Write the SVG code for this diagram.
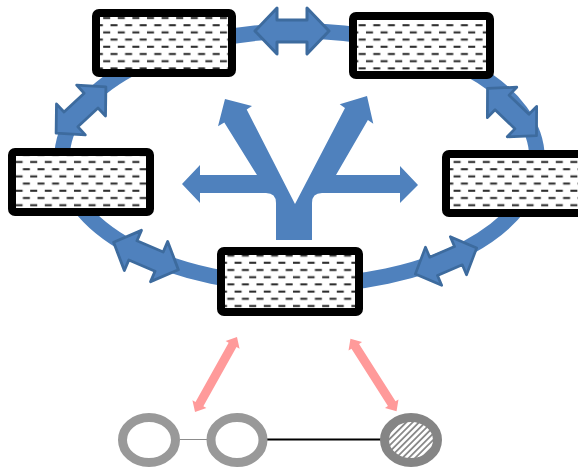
<svg xmlns="http://www.w3.org/2000/svg" width="578" height="467" viewBox="0 0 578 467">
  <style>
    .box { fill: url(#dashes); stroke: #000; stroke-width: 8; }
    .ring { fill: none; stroke: #4f81bd; stroke-width: 15.5; }
    .dbl { fill: #4f81bd; stroke: #3d6b9e; stroke-width: 3; stroke-linejoin: round; }
    .fork { fill: #4f81bd; }
    .pink { fill: #ff9a9a; }
    .hollow { fill: #fff; stroke: #999; stroke-width: 9; }
    .hatched { fill: url(#hatch); stroke: #858585; stroke-width: 9; }
  </style>
  <defs>
    <!-- staggered dash rows used inside the boxes -->
    <pattern id="dashes" patternUnits="userSpaceOnUse" width="14.6" height="14.4">
      <rect width="14.6" height="14.4" fill="#fff"/>
      <line x1="1" y1="3.6" x2="8" y2="3.6" stroke="#262626" stroke-width="2"/>
      <line x1="8.3" y1="10.8" x2="15.3" y2="10.8" stroke="#262626" stroke-width="2"/>
      <line x1="-6.3" y1="10.8" x2="0.7" y2="10.8" stroke="#262626" stroke-width="2"/>
    </pattern>
    <!-- diagonal hatching -->
    <pattern id="hatch" patternUnits="userSpaceOnUse" width="4.5" height="10" patternTransform="rotate(45)">
      <rect width="4.5" height="10" fill="#fff"/>
      <rect width="1.8" height="10" fill="#8a8a8a"/>
    </pattern>
    <!-- two-headed arrow, centred on the origin along x -->
    <path id="dblArrow" class="dbl" d="M-37,0 L-15,-23 L-15,-11 L15,-11 L15,-23 L37,0 L15,23 L15,11 L-15,11 L-15,23 Z"/>
    <path id="pinkArrow" class="pink" d="M-43,0 L-34,-8 L-34,-4.5 L34,-4.5 L34,-8 L43,0 L34,8 L34,4.5 L-34,4.5 L-34,8 Z"/>
  </defs>

  <g id="connectors">
    <ellipse class="ring" cx="299.5" cy="158" rx="237.5" ry="127"/>
    <use href="#dblArrow" transform="translate(292,31)"/>
    <use href="#dblArrow" transform="translate(81,110) rotate(-43) scale(0.92)"/>
    <use href="#dblArrow" transform="translate(512,112) rotate(44) scale(0.92)"/>
    <use href="#dblArrow" transform="translate(146,256) rotate(23) scale(0.95)"/>
    <use href="#dblArrow" transform="translate(446,261) rotate(-23) scale(0.9)"/>
    <!-- diverging arrow in the middle of the ring -->
    <path class="fork" d="M276,240 L276,203 Q276,193 266,193 L200,193 L200,203 L182,184 L200,165 L200,175 L257,175 L224.3,122.4 L218,126.3 L225,99 L252,106 L246.7,109.6 L295,204 L345,108 L339.7,104.2 L367,96 L373.3,123.8 L367.9,120 L336,175 L400,175 L400,166 L418,185 L400,203 L400,193 L322,193 Q312,193 312,203 L312,240 Z"/>
    <use href="#pinkArrow" transform="translate(216,374.5) rotate(119.2)"/>
    <use href="#pinkArrow" transform="translate(373.5,375) rotate(57.6)"/>
    <line x1="180" y1="439.5" x2="207" y2="439.5" stroke="#8c8c8c" stroke-width="1"/>
    <line x1="266" y1="439.5" x2="381" y2="439.5" stroke="#000" stroke-width="2"/>
  </g>

  <g id="node-top-left"><rect class="box" x="96" y="13" width="136" height="60" rx="3"/></g>
  <g id="node-top-right"><rect class="box" x="353" y="16" width="137" height="59" rx="3"/></g>
  <g id="node-left"><rect class="box" x="12" y="152" width="138" height="60" rx="3"/></g>
  <g id="node-right"><rect class="box" x="446" y="154" width="140" height="59" rx="3"/></g>
  <g id="node-bottom"><rect class="box" x="221" y="251" width="138" height="61" rx="3"/></g>

  <g id="circle-a"><ellipse class="hollow" cx="149" cy="440" rx="26.5" ry="22.5"/></g>
  <g id="circle-b"><ellipse class="hollow" cx="237" cy="440" rx="26" ry="22.5"/></g>
  <g id="circle-c"><ellipse class="hatched" cx="411" cy="440" rx="26.5" ry="22.5"/></g>
</svg>
